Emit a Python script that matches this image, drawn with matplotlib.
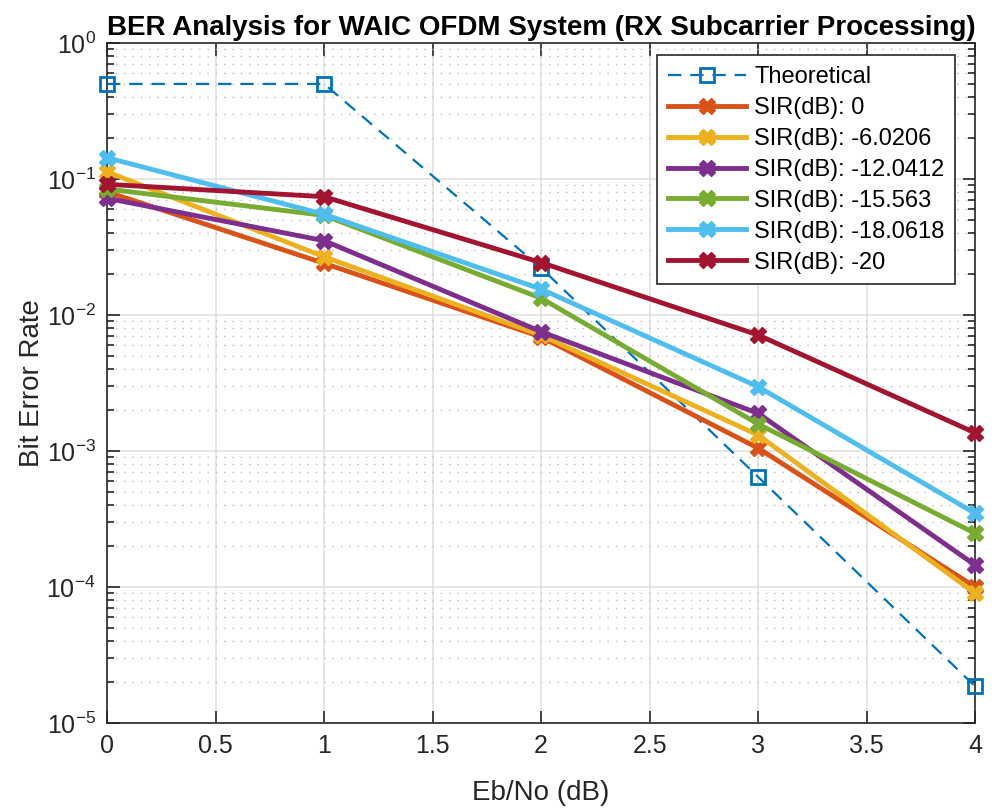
import numpy as np
import matplotlib.pyplot as plt
from matplotlib.ticker import LogLocator, NullFormatter, FuncFormatter

plt.rcParams['font.family'] = ['Liberation Sans', 'DejaVu Sans']
plt.rcParams['mathtext.fontset'] = 'custom'
plt.rcParams['mathtext.rm'] = 'Liberation Sans'
plt.rcParams['mathtext.default'] = 'regular'

ebno = [0, 1, 2, 3, 4]
ber_teorico = [0.5, 0.5, 0.0222, 6.45e-4, 1.86e-5]

etiquetas = ['SIR(dB): 0', 'SIR(dB): -6.0206', 'SIR(dB): -12.0412',
             'SIR(dB): -15.563', 'SIR(dB): -18.0618', 'SIR(dB): -20']
ber_sir0 = [0.0805, 0.0240, 0.0069, 0.00105, 1.0e-4]
ber_sir6 = [0.113, 0.0268, 0.0071, 0.00131, 9.0e-5]
ber_sir12 = [0.0721, 0.0352, 0.00754, 0.00189, 1.45e-4]
ber_sir15 = [0.0844, 0.0540, 0.0133, 0.00158, 2.48e-4]
ber_sir18 = [0.1434, 0.0550, 0.0155, 0.00297, 3.48e-4]
ber_sir20 = [0.0914, 0.0741, 0.0243, 0.00713, 1.36e-3]
colores = ['#D95319', '#EDB120', '#7E2F8E', '#77AC30', '#4DBEEE', '#A2142F']

fig = plt.figure(figsize=(10.03, 8.11), dpi=100)
ax = fig.add_axes([0.1067, 0.1085, 0.8655, 0.8385])

ax.semilogy(ebno, ber_teorico, marker='s', ls=(0, (6, 4)), color='#0072BD',
            lw=1.6, ms=10, mfc='none', mew=2, label='Theoretical', zorder=3,
            clip_on=False)
for ber, col, et in zip([ber_sir0, ber_sir6, ber_sir12, ber_sir15, ber_sir18, ber_sir20],
                        colores, etiquetas):
    ax.semilogy(ebno, ber, '-X', color=col, lw=3.5, ms=11, label=et, zorder=4,
                clip_on=False)

ax.set_xlim(0, 4)
ax.set_ylim(1e-5, 1)
ax.set_xticks(np.arange(0, 4.01, 0.5))
ax.set_xticklabels(['0', '0.5', '1', '1.5', '2', '2.5', '3', '3.5', '4'])
ax.yaxis.set_major_locator(LogLocator(base=10, numticks=10))
ax.yaxis.set_major_formatter(FuncFormatter(lambda v, p: '$10^{%d}$' % round(np.log10(v))))
ax.yaxis.set_minor_locator(LogLocator(base=10, subs=np.arange(2, 10), numticks=20))
ax.yaxis.set_minor_formatter(NullFormatter())

ax.grid(True, which='major', color='#e1e1e1', lw=1.2)
ax.grid(True, which='minor', axis='y', color='#bdbdbd', lw=1, ls=(0, (1, 5)))
ax.set_axisbelow(True)
ax.tick_params(which='both', direction='in', top=True, right=True,
               colors='#262626', labelsize=18)
ax.tick_params(which='major', length=9, width=1.2, pad=8)
ax.tick_params(which='minor', length=5, width=1.2)
for s in ax.spines.values():
    s.set_color('#262626')
    s.set_linewidth(1.2)

ax.set_xlabel('Eb/No (dB)', fontsize=20, color='#262626', labelpad=16)
ax.set_ylabel('Bit Error Rate', fontsize=20, color='#262626', labelpad=1)
ax.set_title('BER Analysis for WAIC OFDM System (RX Subcarrier Processing)',
             fontsize=20, fontweight='bold', pad=6)

leg = ax.legend(loc='upper right', fontsize=17, handlelength=3.3,
                handletextpad=0.35, fancybox=False, framealpha=1,
                edgecolor='#262626', borderaxespad=0.0,
                bbox_to_anchor=(0.977, 0.982), labelspacing=0.38, borderpad=0.45)
leg.get_frame().set_linewidth(1.2)
leg.set_zorder(10)

fig.savefig('out.png', dpi=100)
